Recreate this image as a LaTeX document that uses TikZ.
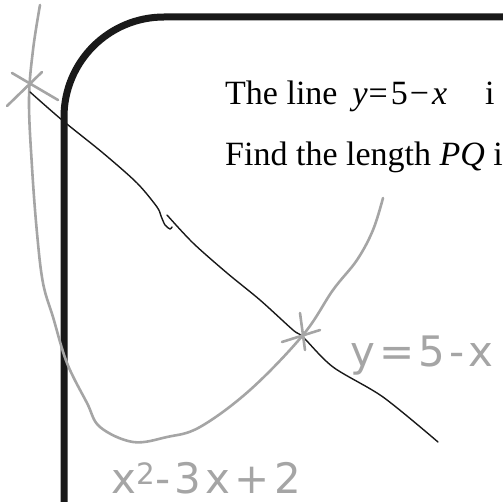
\documentclass[tikz,border=0pt]{standalone}
\usepackage{fontspec}
\setmainfont{Liberation Serif}
\newfontfamily\handfont{DejaVu Sans}[LetterSpace=10]
\usetikzlibrary{positioning}
\definecolor{pencil}{RGB}{165,165,165}
\definecolor{ink}{RGB}{25,25,25}
\tikzset{
    frame/.style={draw=ink, line width=7pt, rounded corners=100pt},
    pencilline/.style={draw=pencil, line width=2.6pt, line cap=round, line join=round},
    inkline/.style={draw=ink, line width=1.4pt, line cap=round, line join=round},
    question/.style={anchor=base west, inner sep=0pt, font=\fontsize{34}{42}\selectfont},
    scribble/.style={text=pencil, inner sep=0pt, font=\handfont\fontsize{42}{48}\selectfont}
}

\begin{document}
\begin{tikzpicture}[x=1pt, y=-1pt]
    \useasboundingbox (0,0) rectangle (503,502);
    \clip (0,0) rectangle (503,502);
    % question box
    \draw[frame] (64,560) -- (64,17) -- (560,17);
    \node[question] (line1) at (225,105) {The line\hspace{15pt}\textit{y}\kern1pt=\kern3pt5\kern2pt−\kern3pt\textit{x}\hspace{38pt}i};
    \node[question] (line2) at (225,166) {Find the length \textit{PQ} i};
    % the two crossing points
    \coordinate (P) at (27,87);
    \coordinate (Q) at (303,335);
    % pencil sketch of the curve
    \draw[pencilline] plot[smooth, tension=0.6] coordinates {(40,5) (33,50) (29,100) (32,167) (37,233) (43,283) (53,317) (67,363) (87,403) (100,427) (133,442) (167,437) (200,427) (250,390) (303,335) (333,290) (357,260) (373,230) (383,198)};
    % the line, drawn in two strokes
    \draw[inkline] plot[smooth] coordinates {(30,92) (62,120) (103,153) (137,183) (157,207) (161,216) (165,225) (170,229) (172,227)};
    \draw[inkline] plot[smooth] coordinates {(167,215) (193,243) (227,273) (260,300) (293,330) (303,337) (333,367) (383,397) (438,442)};
    % crosses at P and Q
    \draw[pencilline] ([shift={(-20,19)}]P) -- ([shift={(15,-15)}]P) ([shift={(-15,-14)}]P) -- ([shift={(31,13)}]P);
    \draw[pencilline] ([shift={(-3,-22)}]Q) -- ([shift={(2,15)}]Q) ([shift={(-21,7)}]Q) -- ([shift={(17,-5)}]Q);
    % labels
    \node[scribble, anchor=west] (lineLabel) at (350,356) {y=5-x};
    \node[scribble] (curveLabel) at (206,478) {x\textsuperscript{2}-3x+2};
\end{tikzpicture}
\end{document}
